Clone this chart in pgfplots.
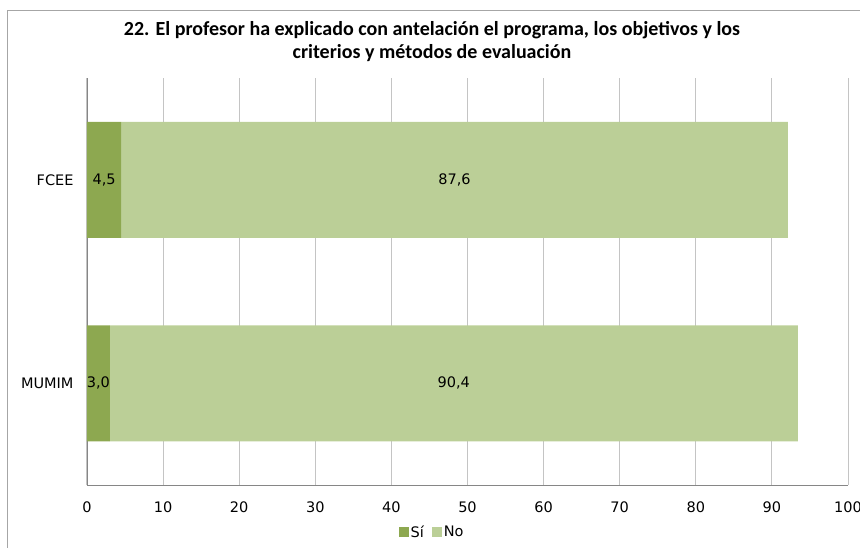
\documentclass[border=0pt]{standalone}
\usepackage{pgfplots}
\pgfplotsset{compat=1.18}
\usepackage{fontspec}
\setmainfont{DejaVu Sans}
\newfontfamily\titlefont{Carlito}
\definecolor{si}{HTML}{8DA850}
\definecolor{no}{HTML}{BBCF97}
\definecolor{gridc}{HTML}{C4C4C4}
\definecolor{axc}{HTML}{868686}
\definecolor{framec}{HTML}{A6A6A6}
\begin{document}
\begin{tikzpicture}[x=1pt,y=1pt]
\useasboundingbox (-87,-62) rectangle (773,485);
\draw[framec, line width=0.8pt] (-80,-120) rectangle (900,475);
\node[align=center, font=\titlefont\bfseries\fontsize{20}{23}\selectfont] at (345,443)
  {22. El profesor ha explicado con antelación el programa, los objetivos y los\\criterios y métodos de evaluación};
\begin{axis}[
  at={(0,0)}, anchor=south west,
  scale only axis, width=761pt, height=407pt,
  xbar stacked, bar width=116pt,
  xmin=0, xmax=100, xtick={0,10,...,100},
  ymin=-0.5, ymax=1.5, ytick={0,1}, yticklabels={MUMIM,FCEE},
  xmajorgrids, grid style={gridc, line width=1pt},
  axis lines*=left, axis line style={-, axc, line width=0.9pt},
  major tick length=0pt,
  ticklabel style={font=\fontsize{14.5}{16}\selectfont},
  /pgf/number format/assume math mode=true,
  xticklabel style={yshift=-13pt},
  yticklabel style={xshift=-10pt},
  legend style={at={(0.4534,-0.1155)}, anchor=center, draw=none, fill=none,
    font=\fontsize{14.5}{16}\selectfont, legend columns=2,
    /tikz/every even column/.append style={column sep=6pt}},
  legend image code/.code={\path[#1] (0pt,-5pt) rectangle (10pt,5pt);},
]
\addplot[fill=si, draw=none] coordinates {(3.0,0) (4.5,1)};
\addplot[fill=no, draw=none] coordinates {(90.4,0) (87.6,1)};
\legend{Sí, No}
\coordinate (la) at (axis cs:2.25,1);
\coordinate (lb) at (axis cs:48.3,1);
\coordinate (lc) at (axis cs:1.5,0);
\coordinate (ld) at (axis cs:48.2,0);
\end{axis}
\begin{scope}[every node/.style={font=\fontsize{14.5}{16}\selectfont, inner sep=0pt}]
\node at (la) {4,5};
\node at (lb) {87,6};
\node at (lc) {3,0};
\node at (ld) {90,4};
\end{scope}
\end{tikzpicture}
\end{document}
